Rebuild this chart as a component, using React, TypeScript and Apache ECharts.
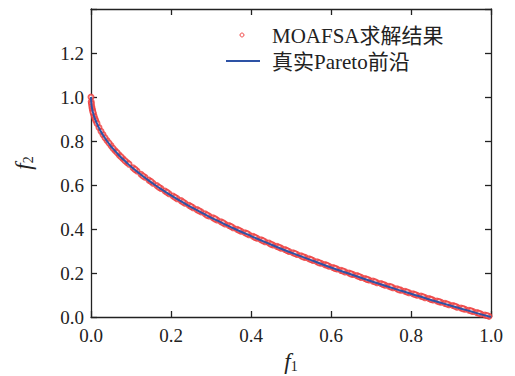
import React, { useEffect, useRef } from "react";
import * as echarts from "echarts";

// True Pareto front (f1, f2)
const frontF1 = [0, 0.001, 0.002, 0.003, 0.005, 0.007, 0.01, 0.02, 0.03, 0.04, 0.05, 0.06, 0.07, 0.08, 0.09, 0.1, 0.12, 0.14, 0.16, 0.18, 0.2, 0.22, 0.24, 0.26, 0.28, 0.3, 0.33, 0.36, 0.4, 0.44, 0.48, 0.52, 0.56, 0.6, 0.64, 0.68, 0.72, 0.76, 0.8, 0.84, 0.88, 0.92, 0.96, 1.0];
const frontF2 = [1.0, 0.968, 0.955, 0.945, 0.929, 0.916, 0.9, 0.859, 0.827, 0.8, 0.776, 0.755, 0.735, 0.717, 0.7, 0.684, 0.654, 0.626, 0.6, 0.576, 0.553, 0.531, 0.51, 0.49, 0.471, 0.452, 0.426, 0.4, 0.368, 0.337, 0.307, 0.279, 0.252, 0.225, 0.2, 0.175, 0.151, 0.128, 0.106, 0.083, 0.062, 0.041, 0.02, 0];

// MOAFSA solutions (f1, f2)
const solF1 = [0, 0.0005, 0.001, 0.002, 0.003, 0.004, 0.006, 0.008, 0.01, 0.012, 0.02, 0.03, 0.04, 0.05, 0.06, 0.07, 0.08, 0.09,
  0.005, 0.015, 0.025, 0.035, 0.045, 0.055, 0.065, 0.075, 0.085, 0.095, 0.105, 0.115, 0.125, 0.135, 0.145, 0.155, 0.165, 0.175, 0.185, 0.195,
  0.205, 0.215, 0.225, 0.235, 0.245, 0.255, 0.265, 0.275, 0.285, 0.295, 0.305, 0.315, 0.325, 0.335, 0.345, 0.355, 0.365, 0.375, 0.385, 0.395,
  0.405, 0.415, 0.425, 0.435, 0.445, 0.455, 0.465, 0.475, 0.485, 0.495, 0.505, 0.515, 0.525, 0.535, 0.545, 0.555, 0.565, 0.575, 0.585, 0.595,
  0.605, 0.615, 0.625, 0.635, 0.645, 0.655, 0.665, 0.675, 0.685, 0.695, 0.705, 0.715, 0.725, 0.735, 0.745, 0.755, 0.765, 0.775, 0.785, 0.795,
  0.805, 0.815, 0.825, 0.835, 0.845, 0.855, 0.865, 0.875, 0.885, 0.895, 0.905, 0.915, 0.925, 0.935, 0.945, 0.955, 0.965, 0.975, 0.985, 0.995,
  0.11, 0.13, 0.15, 0.17, 0.19, 0.21, 0.23, 0.25, 0.27, 0.29, 0.31, 0.33, 0.35, 0.37, 0.39, 0.41, 0.43, 0.45, 0.47, 0.49,
  0.51, 0.53, 0.55, 0.57, 0.59, 0.61, 0.63, 0.65, 0.67, 0.69, 0.71, 0.73, 0.75, 0.77, 0.79, 0.81, 0.83, 0.85, 0.87, 0.89, 0.91, 0.93, 0.95, 0.97, 0.99];
const solF2 = [1.0, 0.978, 0.969, 0.957, 0.947, 0.939, 0.924, 0.912, 0.901, 0.892, 0.861, 0.829, 0.802, 0.779, 0.757, 0.737, 0.719, 0.702,
  0.931, 0.88, 0.844, 0.815, 0.791, 0.767, 0.748, 0.728, 0.71, 0.695, 0.678, 0.664, 0.649, 0.635, 0.622, 0.608, 0.597, 0.584, 0.573, 0.56,
  0.55, 0.538, 0.529, 0.517, 0.508, 0.497, 0.488, 0.478, 0.469, 0.459, 0.451, 0.441, 0.433, 0.423, 0.416, 0.406, 0.399, 0.39, 0.383, 0.374,
  0.367, 0.358, 0.351, 0.342, 0.336, 0.327, 0.321, 0.313, 0.307, 0.298, 0.292, 0.284, 0.278, 0.271, 0.265, 0.257, 0.251, 0.244, 0.238, 0.231,
  0.225, 0.218, 0.212, 0.205, 0.2, 0.193, 0.188, 0.18, 0.175, 0.168, 0.163, 0.156, 0.152, 0.145, 0.14, 0.133, 0.128, 0.122, 0.117, 0.11,
  0.106, 0.099, 0.095, 0.088, 0.084, 0.077, 0.073, 0.067, 0.062, 0.056, 0.052, 0.045, 0.041, 0.035, 0.031, 0.025, 0.02, 0.014, 0.009, 0.003,
  0.671, 0.641, 0.616, 0.59, 0.567, 0.544, 0.523, 0.502, 0.483, 0.463, 0.446, 0.428, 0.411, 0.394, 0.379, 0.362, 0.347, 0.331, 0.317, 0.302,
  0.289, 0.274, 0.261, 0.247, 0.235, 0.221, 0.209, 0.196, 0.184, 0.171, 0.16, 0.148, 0.137, 0.124, 0.114, 0.102, 0.092, 0.08, 0.07, 0.059, 0.049, 0.038, 0.028, 0.017, 0.007];

const yMax = 1.4;

const FONT = "'Liberation Serif', 'Times New Roman', serif";
const LEGEND_FONT = "21px 'Liberation Serif', 'Times New Roman', 'Noto Sans CJK SC', serif";
const AXIS_COLOR = "#222";
const RED = "#ee3b3b";
const BLUE = "#2d52a5";

export default function App() {
  const ref = useRef<HTMLDivElement>(null);
  useEffect(() => {
    if (!ref.current) return;
    const chart = echarts.init(ref.current, null, { renderer: "svg" });
    const axisCommon = {
      axisLine: { show: true, onZero: false, lineStyle: { color: AXIS_COLOR, width: 1.3 } },
      axisTick: { show: true, inside: true, length: 6, lineStyle: { color: AXIS_COLOR, width: 1.3 } },
      splitLine: { show: false },
    };
    const nameRich = {
      i: { fontFamily: FONT, fontStyle: "italic", fontSize: 23, color: "#222" },
      s: { fontFamily: FONT, fontSize: 14, color: "#222", verticalAlign: "bottom", padding: [9, 0, 0, 0] },
    };
    chart.setOption({
      animation: false,
      backgroundColor: "#fff",
      grid: { left: 91, right: 24, top: 9, bottom: 59, containLabel: false, outerBoundsMode: "none" },
      graphic: [
        { type: "circle", shape: { cx: 242, cy: 35, r: 2 }, style: { fill: "none", stroke: RED, lineWidth: 0.9 }, z: 10 },
        { type: "text", x: 272, y: 36, style: { text: "MOAFSA求解结果", font: LEGEND_FONT, fill: "#222", verticalAlign: "middle" }, z: 10 },
        { type: "line", shape: { x1: 226, y1: 61, x2: 260, y2: 61 }, style: { stroke: BLUE, lineWidth: 2 }, z: 10 },
        { type: "text", x: 272, y: 62, style: { text: "真实Pareto前沿", font: LEGEND_FONT, fill: "#222", verticalAlign: "middle" }, z: 10 },
      ],
      xAxis: [
        {
          type: "value",
          min: 0,
          max: 1,
          interval: 0.2,
          position: "bottom",
          ...axisCommon,
          axisLabel: { fontFamily: FONT, fontSize: 19, color: "#222", margin: 9, formatter: (v: number) => v.toFixed(1) },
          name: "{i|f}{s|1}",
          nameLocation: "middle",
          nameGap: 33,
          nameTextStyle: { rich: nameRich },
        },
        {
          type: "value",
          min: 0,
          max: 1,
          interval: 0.2,
          position: "top",
          ...axisCommon,
          axisLabel: { show: false },
        },
      ],
      yAxis: [
        {
          type: "value",
          min: 0,
          max: yMax,
          interval: 0.2,
          position: "left",
          ...axisCommon,
          axisLabel: { fontFamily: FONT, fontSize: 19, color: "#222", margin: 7, formatter: (v: number) => (v > 1.3 ? "" : v.toFixed(1)) },
          name: "{i|f}{s|2}",
          nameLocation: "middle",
          nameGap: 56,
          nameTextStyle: { rich: nameRich },
        },
        {
          type: "value",
          min: 0,
          max: yMax,
          interval: 0.2,
          position: "right",
          ...axisCommon,
          axisLabel: { show: false },
        },
      ],
      series: [
        {
          name: "MOAFSA求解结果",
          type: "scatter",
          symbol: "emptyCircle",
          symbolSize: 5,
          itemStyle: { color: RED, borderColor: RED, borderWidth: 1 },
          data: solF1.map((x, i) => [x, solF2[i]]),
          z: 2,
        },
        {
          name: "真实Pareto前沿",
          type: "line",
          symbol: "none",
          smooth: true,
          lineStyle: { color: BLUE, width: 2 },
          data: frontF1.map((x, i) => [x, frontF2[i]]),
          z: 3,
        },
      ],
    });
    return () => chart.dispose();
  }, []);
  return <div ref={ref} style={{ width: 515, height: 376, position: "absolute", left: 0, top: 0 }} />;
}
